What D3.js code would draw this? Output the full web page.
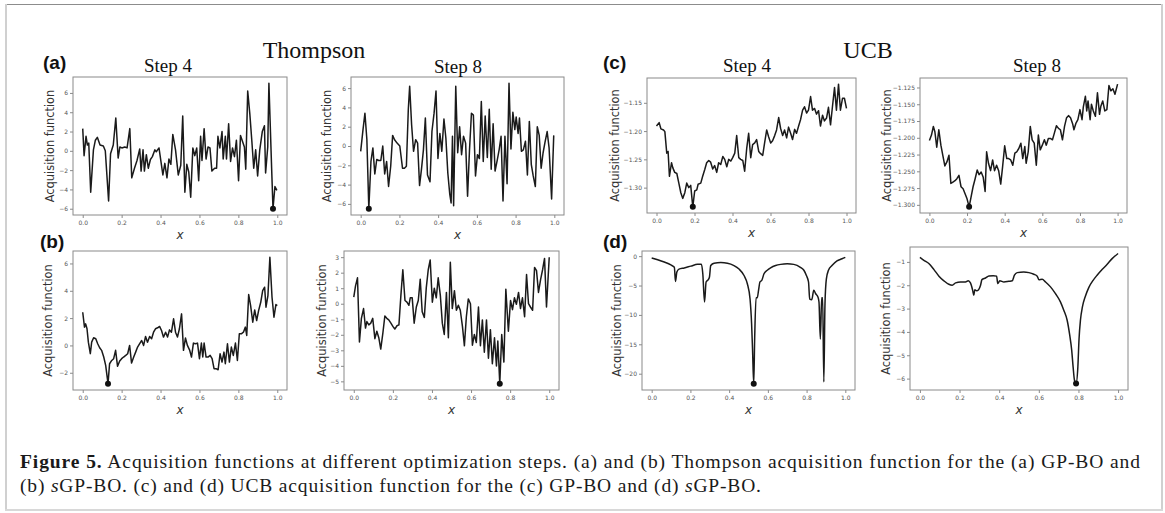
<!DOCTYPE html>
<html>
<head>
<meta charset="utf-8">
<script src="https://cdn.jsdelivr.net/npm/d3@7"></script>
<style>
  body { margin: 0; background: #fff; }
  svg { display: block; }
</style>
</head>
<body>
<svg id="fig" width="1165" height="513"></svg>
<script>
// values, [x, acquisition]
const aStep4 = [[0,2.3],[0.007,-0.5],[0.017,1.5],[0.024,0.6],[0.031,0.8],[0.041,-4.3],[0.055,0.1],[0.065,1.1],[0.075,1.4],[0.089,0.6],[0.106,0.5],[0.116,0.0],[0.133,-5.2],[0.143,-0.3],[0.157,0.6],[0.170,3.4],[0.182,-0.75],[0.191,0.4],[0.201,0.3],[0.216,0.4],[0.228,0.3],[0.242,2.3],[0.252,-2.8],[0.266,-1.8],[0.279,-1.0],[0.293,0.2],[0.300,-2.1],[0.310,0.1],[0.317,-2.1],[0.327,-0.4],[0.337,-1.8],[0.348,-0.9],[0.358,-0.6],[0.371,0.1],[0.378,-0.1],[0.392,0.3],[0.402,-1.1],[0.412,-2.5],[0.422,-1.3],[0.433,-2.8],[0.443,-0.85],[0.453,-1.4],[0.463,1.7],[0.477,0.1],[0.491,-2.5],[0.504,-1.5],[0.514,3.6],[0.525,-4.3],[0.535,-1.4],[0.545,-2.2],[0.555,-4.8],[0.566,0.3],[0.576,-0.5],[0.586,0.3],[0.596,-3.1],[0.606,1.5],[0.613,-1.0],[0.624,2.3],[0.634,-0.85],[0.644,0.4],[0.654,0.3],[0.664,-2.1],[0.678,-1.8],[0.688,-1.8],[0.695,1.5],[0.705,0.3],[0.716,2.0],[0.722,-0.85],[0.733,1.5],[0.739,-0.85],[0.750,2.8],[0.760,-1.1],[0.770,0.3],[0.780,-0.6],[0.790,1.1],[0.801,-3.1],[0.811,1.6],[0.821,1.0],[0.831,0.4],[0.838,-1.9],[0.848,6.2],[0.859,3.8],[0.869,1.1],[0.879,-1.8],[0.889,0.1],[0.899,-2.6],[0.910,0.1],[0.923,2.0],[0.934,2.6],[0.940,-2.3],[0.951,0.4],[0.957,7.0],[0.971,-1.8],[0.978,-6.0],[0.988,-3.7],[0.998,-4.1]];

const aStep8 = [[0,-0.55],[0.012,1.7],[0.022,3.4],[0.032,0.65],[0.042,-6.5],[0.053,-1.6],[0.063,-0.2],[0.073,-2.9],[0.083,-1.4],[0.093,-1.5],[0.104,-1.5],[0.114,0.0],[0.124,-2.9],[0.134,-1.6],[0.144,-4.2],[0.155,-2.1],[0.165,1.1],[0.175,0.65],[0.188,0.3],[0.202,0.0],[0.216,-2.3],[0.226,-2.3],[0.236,-2.1],[0.246,3.8],[0.253,6.2],[0.263,2.2],[0.273,-0.55],[0.284,0.65],[0.294,0.3],[0.304,-4.1],[0.314,-2.4],[0.324,-0.4],[0.334,2.9],[0.345,-3.0],[0.358,-3.7],[0.368,1.5],[0.379,3.4],[0.389,5.7],[0.399,-1.3],[0.409,1.3],[0.419,-0.55],[0.430,2.8],[0.440,0.8],[0.450,-2.8],[0.460,-5.0],[0.467,-5.9],[0.474,1.0],[0.480,-6.2],[0.491,6.2],[0.501,-0.7],[0.511,2.0],[0.521,-0.9],[0.531,1.0],[0.542,0.3],[0.552,-5.2],[0.562,-0.4],[0.572,3.4],[0.582,3.2],[0.593,-3.1],[0.603,-0.9],[0.613,-1.3],[0.623,4.6],[0.633,-1.6],[0.643,3.1],[0.654,-1.2],[0.664,3.8],[0.674,-2.4],[0.684,2.3],[0.694,-2.6],[0.705,-1.5],[0.715,-0.4],[0.725,1.0],[0.735,-5.7],[0.745,1.0],[0.756,-3.9],[0.766,6.5],[0.776,-0.3],[0.786,3.5],[0.796,1.7],[0.803,3.0],[0.813,1.3],[0.820,2.9],[0.830,-0.55],[0.840,-0.4],[0.851,0.5],[0.861,-3.0],[0.871,2.55],[0.881,-1.9],[0.891,-3.1],[0.902,-4.2],[0.912,2.0],[0.922,1.1],[0.932,-2.3],[0.942,-0.7],[0.952,0.4],[0.963,1.5],[0.973,-0.2],[0.986,-5.5],[0.997,1.1]];

const bStep4 = [[0,2.43],[0.009,1.34],[0.015,1.58],[0.022,1.22],[0.029,0.24],[0.039,-0.6],[0.046,0.24],[0.056,0.56],[0.067,0.49],[0.077,0.12],[0.087,-0.17],[0.097,-0.36],[0.108,-0.85],[0.118,-1.46],[0.130,-2.8],[0.138,-1.34],[0.149,-1.1],[0.159,-0.97],[0.169,-0.36],[0.179,-1.53],[0.190,-1.14],[0.200,-0.97],[0.210,-0.85],[0.221,-0.73],[0.231,-0.61],[0.241,0.0],[0.251,-1.29],[0.262,-0.85],[0.272,-0.49],[0.282,-0.12],[0.292,0.12],[0.303,0.36],[0.313,0.0],[0.323,0.66],[0.333,0.24],[0.344,0.66],[0.354,0.49],[0.364,0.97],[0.374,1.22],[0.385,1.29],[0.395,1.39],[0.405,1.09],[0.415,0.61],[0.426,0.97],[0.436,0.61],[0.446,1.14],[0.456,0.97],[0.467,1.95],[0.477,0.97],[0.487,0.61],[0.497,1.22],[0.508,2.31],[0.518,-0.36],[0.528,0.54],[0.538,0.0],[0.549,-0.32],[0.559,-0.85],[0.569,0.17],[0.579,0.12],[0.590,0.17],[0.600,-0.97],[0.610,0.17],[0.617,-0.85],[0.624,0.17],[0.634,-0.85],[0.644,-0.85],[0.655,-0.73],[0.665,-0.97],[0.675,-1.7],[0.685,-1.7],[0.696,-1.78],[0.706,-0.61],[0.716,-1.22],[0.726,-0.49],[0.733,-1.34],[0.744,0.12],[0.754,-1.22],[0.764,-0.12],[0.774,-0.73],[0.785,0.17],[0.795,-1.1],[0.805,0.85],[0.815,0.85],[0.826,0.97],[0.836,1.34],[0.843,0.73],[0.853,3.72],[0.863,2.92],[0.874,1.7],[0.884,2.6],[0.894,1.82],[0.904,2.55],[0.915,3.16],[0.925,4.01],[0.935,4.26],[0.942,2.8],[0.952,3.65],[0.962,6.45],[0.973,3.53],[0.983,2.07],[0.993,2.99],[1.0,2.92]];

const bStep8 = [[0,0.42],[0.009,1.15],[0.019,1.67],[0.029,-2.46],[0.039,-0.94],[0.050,-0.31],[0.060,-1.57],[0.067,-1.15],[0.077,-1.36],[0.087,-1.25],[0.097,-0.94],[0.108,-2.25],[0.118,-1.77],[0.128,-2.19],[0.138,-2.92],[0.149,-1.88],[0.159,-0.79],[0.169,-0.94],[0.179,-1.04],[0.190,-1.25],[0.200,-1.46],[0.210,-1.63],[0.221,-1.42],[0.231,-1.36],[0.241,0.52],[0.251,2.19],[0.262,0.21],[0.272,0.1],[0.282,-0.1],[0.289,0.38],[0.299,0.38],[0.309,-1.25],[0.320,-0.21],[0.330,0.21],[0.340,1.57],[0.350,-0.52],[0.361,-0.88],[0.371,1.04],[0.381,2.19],[0.391,2.82],[0.402,0.1],[0.412,1.0],[0.422,0.38],[0.432,1.67],[0.443,0.52],[0.453,-1.25],[0.463,-1.98],[0.474,0.73],[0.484,-2.19],[0.494,2.67],[0.504,-0.31],[0.515,0.84],[0.525,-0.42],[0.535,-0.1],[0.545,-0.42],[0.556,-1.46],[0.566,-2.71],[0.576,-0.84],[0.586,0.31],[0.597,0.0],[0.607,-2.67],[0.617,-1.98],[0.627,-2.5],[0.638,-0.21],[0.648,-2.71],[0.658,-1.04],[0.668,-3.13],[0.679,-1.04],[0.689,-3.51],[0.699,-1.67],[0.709,-3.86],[0.720,-2.19],[0.730,-4.01],[0.737,-2.4],[0.747,-5.15],[0.757,-1.98],[0.768,-3.76],[0.778,0.94],[0.791,-1.77],[0.802,0.21],[0.812,-0.38],[0.822,0.38],[0.832,-0.04],[0.843,0.73],[0.853,-0.31],[0.863,0.38],[0.874,-0.84],[0.884,1.88],[0.894,0.0],[0.904,-0.21],[0.915,-0.42],[0.925,2.34],[0.935,2.13],[0.945,0.73],[0.956,1.57],[0.966,2.19],[0.976,2.92],[0.986,-0.21],[1.0,2.99]];

const cStep4 = [[0,-1.191],[0.014,-1.185],[0.023,-1.196],[0.037,-1.198],[0.044,-1.201],[0.054,-1.239],[0.061,-1.236],[0.068,-1.280],[0.079,-1.256],[0.086,-1.265],[0.096,-1.273],[0.107,-1.275],[0.117,-1.291],[0.128,-1.309],[0.138,-1.319],[0.149,-1.309],[0.159,-1.292],[0.170,-1.300],[0.180,-1.296],[0.191,-1.334],[0.201,-1.306],[0.212,-1.304],[0.219,-1.294],[0.233,-1.292],[0.243,-1.280],[0.254,-1.268],[0.264,-1.256],[0.275,-1.252],[0.285,-1.255],[0.296,-1.267],[0.306,-1.261],[0.317,-1.273],[0.327,-1.256],[0.338,-1.259],[0.349,-1.245],[0.359,-1.250],[0.370,-1.263],[0.380,-1.250],[0.391,-1.253],[0.401,-1.247],[0.412,-1.239],[0.422,-1.208],[0.433,-1.247],[0.443,-1.250],[0.454,-1.252],[0.464,-1.271],[0.475,-1.230],[0.485,-1.204],[0.496,-1.247],[0.506,-1.224],[0.517,-1.221],[0.527,-1.215],[0.538,-1.236],[0.548,-1.240],[0.559,-1.243],[0.569,-1.221],[0.580,-1.198],[0.590,-1.210],[0.601,-1.221],[0.611,-1.217],[0.622,-1.208],[0.632,-1.198],[0.643,-1.176],[0.653,-1.195],[0.664,-1.208],[0.674,-1.198],[0.685,-1.212],[0.695,-1.193],[0.706,-1.204],[0.716,-1.215],[0.727,-1.197],[0.737,-1.204],[0.748,-1.191],[0.758,-1.180],[0.769,-1.163],[0.779,-1.157],[0.790,-1.168],[0.800,-1.163],[0.811,-1.139],[0.821,-1.163],[0.832,-1.160],[0.842,-1.170],[0.853,-1.164],[0.863,-1.191],[0.874,-1.172],[0.884,-1.182],[0.895,-1.177],[0.905,-1.158],[0.916,-1.189],[0.926,-1.157],[0.937,-1.123],[0.947,-1.163],[0.958,-1.117],[0.968,-1.163],[0.979,-1.142],[0.989,-1.142],[1.0,-1.160]];

const cStep8 = [[0,-1.204],[0.011,-1.196],[0.021,-1.183],[0.029,-1.191],[0.039,-1.214],[0.050,-1.188],[0.061,-1.211],[0.071,-1.226],[0.082,-1.242],[0.093,-1.236],[0.104,-1.226],[0.114,-1.268],[0.125,-1.266],[0.136,-1.264],[0.146,-1.261],[0.157,-1.256],[0.168,-1.273],[0.179,-1.276],[0.189,-1.283],[0.200,-1.291],[0.211,-1.303],[0.221,-1.289],[0.232,-1.273],[0.243,-1.261],[0.254,-1.248],[0.264,-1.255],[0.275,-1.251],[0.286,-1.259],[0.296,-1.280],[0.304,-1.221],[0.314,-1.238],[0.325,-1.249],[0.336,-1.233],[0.346,-1.249],[0.357,-1.241],[0.368,-1.249],[0.379,-1.269],[0.389,-1.243],[0.400,-1.212],[0.411,-1.231],[0.421,-1.231],[0.432,-1.233],[0.443,-1.241],[0.454,-1.223],[0.464,-1.221],[0.475,-1.216],[0.486,-1.208],[0.496,-1.231],[0.507,-1.213],[0.514,-1.238],[0.525,-1.221],[0.536,-1.183],[0.546,-1.203],[0.557,-1.208],[0.568,-1.241],[0.579,-1.196],[0.589,-1.218],[0.600,-1.211],[0.611,-1.203],[0.621,-1.211],[0.632,-1.201],[0.643,-1.201],[0.654,-1.203],[0.664,-1.193],[0.675,-1.182],[0.686,-1.186],[0.696,-1.188],[0.707,-1.203],[0.718,-1.183],[0.729,-1.170],[0.739,-1.167],[0.750,-1.170],[0.761,-1.179],[0.768,-1.188],[0.779,-1.178],[0.789,-1.173],[0.800,-1.158],[0.811,-1.173],[0.818,-1.154],[0.829,-1.138],[0.836,-1.160],[0.843,-1.145],[0.854,-1.173],[0.861,-1.150],[0.871,-1.160],[0.882,-1.168],[0.893,-1.133],[0.904,-1.165],[0.911,-1.153],[0.921,-1.145],[0.932,-1.160],[0.943,-1.158],[0.954,-1.122],[0.964,-1.130],[0.975,-1.127],[0.986,-1.135],[1.0,-1.120]];

const dStep4 = [[0,-0.3],[0.031,-0.6],[0.065,-1.0],[0.099,-1.5],[0.117,-1.9],[0.123,-4.3],[0.130,-2.7],[0.141,-2.2],[0.168,-2.0],[0.202,-1.7],[0.237,-1.4],[0.257,-1.4],[0.264,-3.0],[0.273,-7.8],[0.281,-4.4],[0.292,-4.0],[0.298,-3.6],[0.305,-1.6],[0.322,-1.2],[0.357,-1.1],[0.391,-1.2],[0.425,-1.6],[0.451,-2.2],[0.477,-3.3],[0.494,-4.7],[0.508,-7.3],[0.516,-11.5],[0.521,-16],[0.527,-21.7],[0.532,-13.8],[0.539,-7.1],[0.545,-7.1],[0.552,-5.8],[0.559,-4.4],[0.569,-4.1],[0.580,-3.0],[0.597,-2.4],[0.614,-2.0],[0.640,-1.6],[0.666,-1.4],[0.700,-1.3],[0.734,-1.4],[0.768,-1.9],[0.786,-2.4],[0.799,-3.3],[0.810,-4.4],[0.816,-7.3],[0.827,-7.4],[0.837,-5.8],[0.847,-6.4],[0.858,-6.9],[0.864,-7.8],[0.871,-14.1],[0.878,-7.1],[0.883,-7.1],[0.889,-21.4],[0.895,-8.1],[0.902,-3.9],[0.913,-2.4],[0.931,-1.6],[0.957,-0.8],[0.983,-0.45],[1.0,-0.2]];

const dStep8 = [[0,-0.81],[0.020,-0.93],[0.045,-1.07],[0.071,-1.33],[0.096,-1.61],[0.121,-1.81],[0.146,-1.96],[0.163,-2.0],[0.180,-1.9],[0.205,-1.86],[0.230,-1.86],[0.244,-1.81],[0.255,-1.9],[0.266,-2.21],[0.272,-2.43],[0.277,-2.19],[0.286,-2.24],[0.296,-2.19],[0.306,-2.0],[0.313,-1.76],[0.331,-1.69],[0.348,-1.6],[0.370,-1.59],[0.387,-1.61],[0.393,-1.93],[0.403,-1.81],[0.424,-1.86],[0.449,-1.83],[0.466,-1.81],[0.477,-1.57],[0.491,-1.46],[0.524,-1.43],[0.550,-1.46],[0.575,-1.53],[0.592,-1.61],[0.600,-1.76],[0.617,-1.74],[0.634,-1.86],[0.659,-2.07],[0.684,-2.36],[0.709,-2.71],[0.726,-3.07],[0.743,-3.5],[0.756,-4.14],[0.766,-4.79],[0.773,-5.5],[0.780,-6.07],[0.788,-6.21],[0.797,-5.5],[0.803,-4.29],[0.810,-3.5],[0.820,-2.93],[0.835,-2.47],[0.852,-2.1],[0.874,-1.79],[0.894,-1.57],[0.919,-1.33],[0.945,-1.1],[0.970,-0.86],[1.0,-0.64]];

// tick labels
const xTicks = [0, 0.2, 0.4, 0.6, 0.8, 1.0];
const yTicksThompson = [-6, -4, -2, 0, 2, 4, 6];
const yTicksB4 = [-2, 0, 2, 4, 6];
const yTicksB8 = [-5, -4, -3, -2, -1, 0, 1, 2, 3];
const yTicksC4 = [-1.30, -1.25, -1.20, -1.15];
const yTicksC8 = [-1.300, -1.275, -1.250, -1.225, -1.200, -1.175, -1.150, -1.125];
const yTicksD4 = [-20, -15, -10, -5, 0];
const yTicksD8 = [-6, -5, -4, -3, -2, -1];

const svg = d3.select('#fig');
const sans = 'DejaVu Sans, sans-serif';
const serif = 'Liberation Serif, Times New Roman, serif';

// page frame
svg.append('line').attr('x1', 5).attr('x2', 1163).attr('y1', 4.5).attr('y2', 4.5).attr('stroke', '#8c8c8c').attr('stroke-width', 1);
svg.append('line').attr('x1', 6).attr('x2', 6).attr('y1', 4).attr('y2', 511).attr('stroke', '#d0d0d0').attr('stroke-width', 2);
svg.append('line').attr('x1', 1162).attr('x2', 1162).attr('y1', 4).attr('y2', 511).attr('stroke', '#d0d0d0').attr('stroke-width', 2);
svg.append('line').attr('x1', 5).attr('x2', 1163).attr('y1', 510).attr('y2', 510).attr('stroke', '#d8d8d8').attr('stroke-width', 2);

const panels = [
  { data: aStep4, l: 73, t: 77, r: 287, b: 215, ticks: yTicksThompson, fmt: 'd', labX: 50 },
  { data: aStep8, l: 351, t: 77, r: 564, b: 215, ticks: yTicksThompson, fmt: 'd', labX: 327 },
  { data: cStep4, l: 647, t: 78, r: 856, b: 213, ticks: yTicksC4, fmt: '.2f', labX: 615 },
  { data: cStep8, l: 920, t: 78, r: 1127, b: 213, ticks: yTicksC8, fmt: '.3f', labX: 887 },
  { data: bStep4, l: 73, t: 251, r: 287, b: 390, ticks: yTicksB4, fmt: 'd', labX: 48 },
  { data: bStep8, l: 344, t: 251, r: 559, b: 390, ticks: yTicksB8, fmt: 'd', labX: 322 },
  { data: dStep4, l: 642, t: 251, r: 855, b: 390, ticks: yTicksD4, fmt: 'd', labX: 617, smooth: true },
  { data: dStep8, l: 910, t: 247, r: 1128, b: 390, ticks: yTicksD8, fmt: 'd', labX: 886, smooth: true }
];

const drawPanel = (p) => {
  const g = svg.append('g');
  const x = d3.scaleLinear().domain([-0.05, 1.05]).range([p.l, p.r]);
  const [lo, hi] = d3.extent(p.data, d => d[1]);
  const pad = (hi - lo) * 0.05;
  const y = d3.scaleLinear().domain([lo - pad, hi + pad]).range([p.b, p.t]);

  const xa = g.append('g')
    .attr('transform', `translate(0,${p.b})`)
    .call(d3.axisBottom(x).tickValues(xTicks).tickFormat(d3.format('.1f')).tickSize(3).tickPadding(3));
  const ya = g.append('g')
    .attr('transform', `translate(${p.l},0)`)
    .call(d3.axisLeft(y).tickValues(p.ticks).tickFormat(d3.format(p.fmt)).tickSize(3).tickPadding(2));
  [xa, ya].forEach(a => {
    a.select('.domain').remove();
    a.selectAll('line').attr('stroke', '#8a8a8a');
    a.selectAll('text').attr('fill', '#555').style('font-family', sans).style('font-size', '6px');
  });

  g.append('rect')
    .attr('x', p.l).attr('y', p.t)
    .attr('width', p.r - p.l).attr('height', p.b - p.t)
    .attr('fill', 'none').attr('stroke', '#8a8a8a').attr('stroke-width', 1);

  const line = d3.line()
    .x(d => x(d[0]))
    .y(d => y(d[1]))
    .curve(p.smooth ? d3.curveMonotoneX : d3.curveLinear);
  g.append('path')
    .datum(p.data)
    .attr('d', line)
    .attr('fill', 'none')
    .attr('stroke', '#1a1a1a')
    .attr('stroke-width', 1.5)
    .attr('stroke-linejoin', 'round');

  // marker at the minimum
  const best = d3.least(p.data, d => d[1]);
  g.append('circle')
    .attr('cx', x(best[0])).attr('cy', y(best[1]))
    .attr('r', 3).attr('fill', '#111');

  g.append('text')
    .attr('transform', `translate(${p.labX},${(p.t + p.b) / 2}) rotate(-90)`)
    .attr('text-anchor', 'middle')
    .attr('dominant-baseline', 'central')
    .attr('fill', '#333')
    .style('font-family', sans).style('font-size', '11.4px')
    .text('Acquisition function');

  g.append('text')
    .attr('x', (p.l + p.r) / 2).attr('y', p.b + 24)
    .attr('text-anchor', 'middle')
    .attr('fill', '#333')
    .style('font-family', sans).style('font-size', '12px').style('font-style', 'italic')
    .text('x');
};
panels.forEach(drawPanel);

// headings
const headings = [
  { text: 'Thompson', x: 314, y: 58, size: 24 },
  { text: 'UCB', x: 868, y: 58, size: 24 },
  { text: 'Step 4', x: 168, y: 72, size: 19 },
  { text: 'Step 8', x: 458, y: 73, size: 19 },
  { text: 'Step 4', x: 747, y: 72, size: 19 },
  { text: 'Step 8', x: 1037, y: 72, size: 19 }
];
svg.selectAll('text.head')
  .data(headings)
  .join('text')
  .attr('class', 'head')
  .attr('x', d => d.x).attr('y', d => d.y)
  .attr('text-anchor', 'middle')
  .attr('fill', '#111')
  .style('font-family', serif)
  .style('font-size', d => d.size + 'px')
  .text(d => d.text);

const panelLabels = [
  { text: '(a)', x: 43, y: 69 },
  { text: '(b)', x: 40, y: 248 },
  { text: '(c)', x: 603, y: 69 },
  { text: '(d)', x: 603, y: 248 }
];
svg.selectAll('text.plab')
  .data(panelLabels)
  .join('text')
  .attr('class', 'plab')
  .attr('x', d => d.x).attr('y', d => d.y)
  .attr('fill', '#111')
  .style('font-family', 'Liberation Sans, Arial, sans-serif')
  .style('font-weight', 'bold')
  .style('font-size', '19px')
  .text(d => d.text);

// caption
const cap1 = svg.append('text')
  .attr('x', 20).attr('y', 468)
  .attr('textLength', 1120).attr('lengthAdjust', 'spacing')
  .attr('fill', '#1a1a1a')
  .style('font-family', serif).style('font-size', '19.5px');
cap1.append('tspan').style('font-weight', 'bold').text('Figure 5.');
cap1.append('tspan').text(' Acquisition functions at different optimization steps. (a) and (b) Thompson acquisition function for the (a) GP-BO and');

const cap2 = svg.append('text')
  .attr('x', 20).attr('y', 492)
  .attr('textLength', 741).attr('lengthAdjust', 'spacing')
  .attr('fill', '#1a1a1a')
  .style('font-family', serif).style('font-size', '19.5px');
cap2.append('tspan').text('(b) ');
cap2.append('tspan').style('font-style', 'italic').text('s');
cap2.append('tspan').text('GP-BO. (c) and (d) UCB acquisition function for the (c) GP-BO and (d) ');
cap2.append('tspan').style('font-style', 'italic').text('s');
cap2.append('tspan').text('GP-BO.');
</script>
</body>
</html>
